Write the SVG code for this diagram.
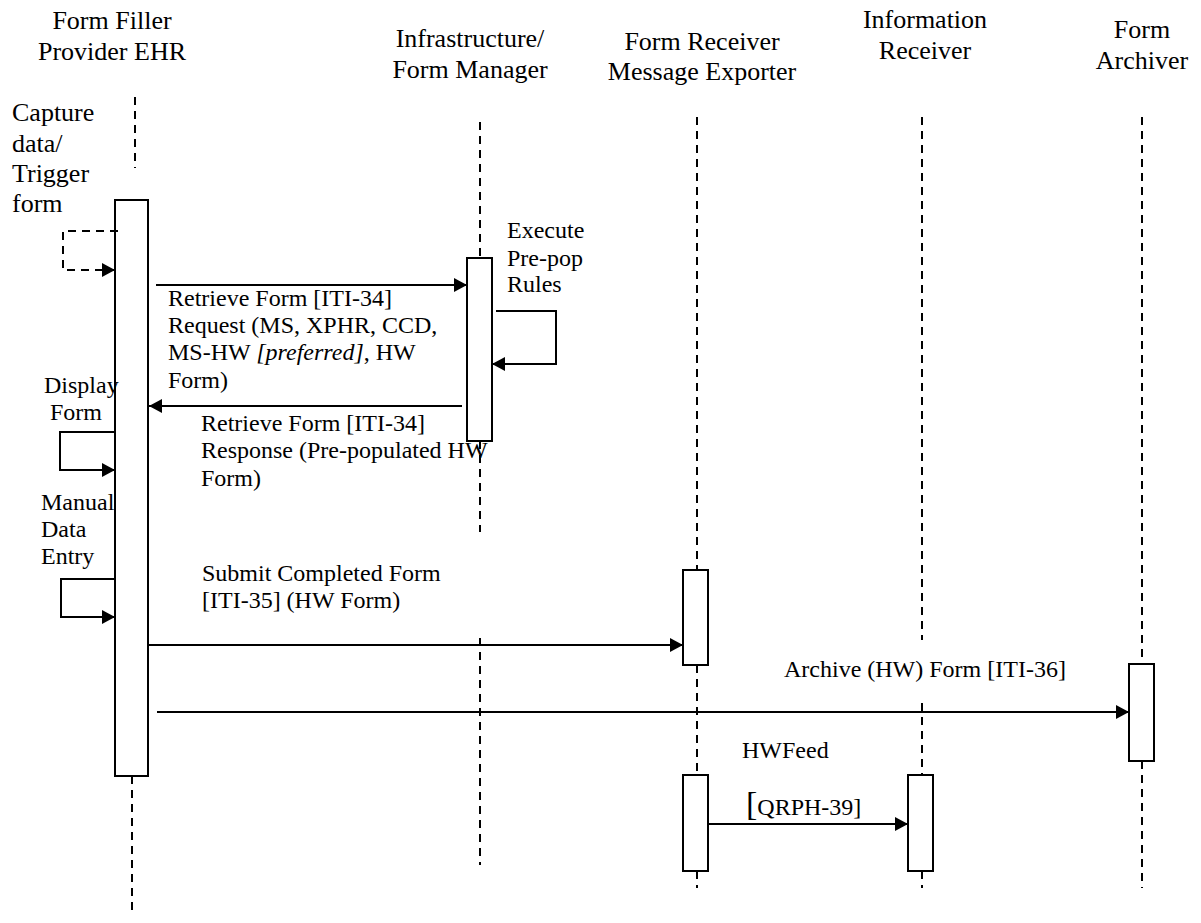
<svg xmlns="http://www.w3.org/2000/svg" width="1201" height="923" viewBox="0 0 1201 923" font-family="'Liberation Serif', 'Times New Roman', 'DejaVu Serif', serif">
<defs>
<style>
text{font-family:'Liberation Serif','Times New Roman','DejaVu Serif',serif;fill:#000;}
.hd{font-size:26px;text-anchor:middle;}
.t{font-size:24px;}
.t26{font-size:26px;}
.life{stroke:#000;stroke-width:2;stroke-dasharray:8 6;fill:none;}
.box{fill:#fff;stroke:#000;stroke-width:2;}
.msg{stroke:#000;stroke-width:2;fill:none;marker-end:url(#ah);}
.dmsg{stroke:#000;stroke-width:2;fill:none;stroke-dasharray:8 6;marker-end:url(#ah);}
</style>
<marker id="ah" markerUnits="userSpaceOnUse" markerWidth="14" markerHeight="14" refX="13" refY="7" orient="auto">
<path d="M0,0 L13,7 L0,14 z" fill="#000"/>
</marker>
</defs>
<rect width="1201" height="923" fill="#fff"/>

<g id="node-form-filler" font-family="'Liberation Serif', serif">
<text class="hd" x="112" y="29" font-family="'Liberation Serif', serif">Form Filler</text>
<text class="hd" x="112" y="60" font-family="'Liberation Serif', serif">Provider EHR</text>
<line class="life" x1="135" y1="97" x2="135" y2="168"/>
<line class="life" x1="132" y1="776" x2="132" y2="915"/>
<rect class="box" x="115" y="200" width="33" height="576"/>
</g>

<g id="node-infrastructure">
<text class="hd" x="470" y="47" font-family="'Liberation Serif', serif">Infrastructure/</text>
<text class="hd" x="470" y="78" font-family="'Liberation Serif', serif">Form Manager</text>
<line class="life" x1="480" y1="122" x2="480" y2="258"/>
<line class="life" x1="480" y1="441" x2="480" y2="532"/>
<line class="life" x1="480" y1="638" x2="480" y2="865"/>
<rect class="box" x="467" y="258" width="25" height="183"/>
</g>

<g id="node-form-receiver">
<text class="hd" x="702" y="50" font-family="'Liberation Serif', serif">Form Receiver</text>
<text class="hd" x="702" y="80" font-family="'Liberation Serif', serif">Message Exporter</text>
<line class="life" x1="697" y1="117" x2="697" y2="570"/>
<line class="life" x1="697" y1="665" x2="697" y2="775"/>
<line class="life" x1="697" y1="871" x2="697" y2="888"/>
<rect class="box" x="683" y="570" width="25" height="95"/>
<rect class="box" x="683" y="775" width="25" height="96"/>
</g>

<g id="node-information-receiver">
<text class="hd" x="925" y="28" font-family="'Liberation Serif', serif">Information</text>
<text class="hd" x="925" y="59" font-family="'Liberation Serif', serif">Receiver</text>
<line class="life" x1="922" y1="117" x2="922" y2="640"/>
<line class="life" x1="922" y1="703" x2="922" y2="775"/>
<line class="life" x1="922" y1="871" x2="922" y2="888"/>
<rect class="box" x="908" y="775" width="25" height="96"/>
</g>

<g id="node-form-archiver">
<text class="hd" x="1142" y="38" font-family="'Liberation Serif', serif">Form</text>
<text class="hd" x="1142" y="69" font-family="'Liberation Serif', serif">Archiver</text>
<line class="life" x1="1142" y1="117" x2="1142" y2="664"/>
<line class="life" x1="1142" y1="761" x2="1142" y2="888"/>
<rect class="box" x="1129" y="664" width="25" height="97"/>
</g>

<g id="connectors">
<path class="dmsg" d="M118,231 H63 V270 H115"/>
<path class="msg" d="M156,285 H467"/>
<path class="msg" d="M496,311 H556 V364 H492"/>
<path class="msg" d="M462,406 H149"/>
<path class="msg" d="M115,432 H60 V470 H115"/>
<path class="msg" d="M115,579 H61 V617 H115"/>
<path class="msg" d="M148,645 H683"/>
<path class="msg" d="M157,712 H1129"/>
<path class="msg" d="M708,824 H908"/>
</g>

<g id="labels" font-family="'Liberation Serif', serif">
<text class="t26" x="12" y="121" font-family="'Liberation Serif', serif">Capture</text>
<text class="t26" x="12" y="152" font-family="'Liberation Serif', serif">data/</text>
<text class="t26" x="12" y="182" font-family="'Liberation Serif', serif">Trigger</text>
<text class="t26" x="12" y="212" font-family="'Liberation Serif', serif">form</text>

<text class="t" x="507" y="238" font-family="'Liberation Serif', serif">Execute</text>
<text class="t" x="507" y="266" font-family="'Liberation Serif', serif">Pre-pop</text>
<text class="t" x="507" y="292" font-family="'Liberation Serif', serif">Rules</text>

<text class="t" x="168" y="306" font-family="'Liberation Serif', serif">Retrieve Form [ITI-34]</text>
<text class="t" x="168" y="333" font-family="'Liberation Serif', serif">Request (MS, XPHR, CCD,</text>
<text class="t" x="168" y="360" font-family="'Liberation Serif', serif">MS-HW <tspan font-style="italic">[preferred]</tspan>, HW</text>
<text class="t" x="168" y="388" font-family="'Liberation Serif', serif">Form)</text>

<text class="t" x="201" y="431" font-family="'Liberation Serif', serif">Retrieve Form [ITI-34]</text>
<text class="t" x="201" y="458" font-family="'Liberation Serif', serif">Response (Pre-populated HW</text>
<text class="t" x="201" y="486" font-family="'Liberation Serif', serif">Form)</text>

<text class="t" x="44" y="393" font-family="'Liberation Serif', serif">Display</text>
<text class="t" x="50" y="420" font-family="'Liberation Serif', serif">Form</text>

<text class="t" x="41" y="510" font-family="'Liberation Serif', serif">Manual</text>
<text class="t" x="41" y="537" font-family="'Liberation Serif', serif">Data</text>
<text class="t" x="41" y="564" font-family="'Liberation Serif', serif">Entry</text>

<text class="t" x="202" y="581" font-family="'Liberation Serif', serif">Submit Completed Form</text>
<text class="t" x="202" y="608" font-family="'Liberation Serif', serif">[ITI-35] (HW Form)</text>

<text class="t" x="784" y="677" font-family="'Liberation Serif', serif">Archive (HW) Form [ITI-36]</text>
<text class="t" x="742" y="758" font-family="'Liberation Serif', serif">HWFeed</text>
<text class="t" x="746" y="815" font-family="'Liberation Serif', serif"><tspan font-size="34">[</tspan>QRPH-39]</text>
</g>
</svg>
